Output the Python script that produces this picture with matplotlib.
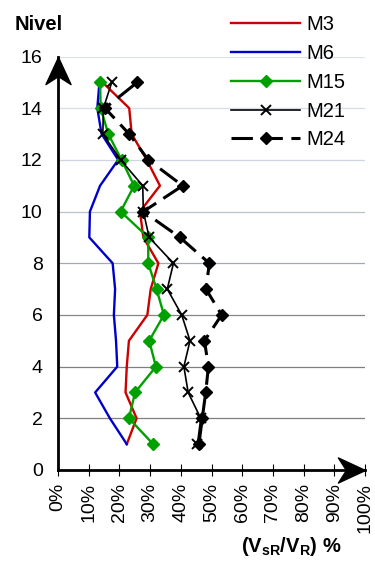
import matplotlib
matplotlib.use('Agg')
import matplotlib.pyplot as plt
import numpy as np
from matplotlib.path import Path
from matplotlib.ticker import FuncFormatter

plt.rcParams['font.family'] = ['Liberation Sans', 'DejaVu Sans']
plt.rcParams['mathtext.fontset'] = 'custom'
plt.rcParams['mathtext.rm'] = 'Liberation Sans'
plt.rcParams['mathtext.bf'] = 'Liberation Sans:bold'

# data: ratio VsR/VR (%) per level
levels = [1, 2, 3, 4, 5, 6, 7, 8, 9, 10, 11, 12, 13, 14, 15]
m3 = [22.4, 25.6, 22.0, 22.4, 23.1, 29.1, 30.2, 32.7, 27.8, 26.7, 33.2, 28.9, 24.0, 23.2, 14.5]
m6 = [22.4, 16.9, 12.1, 19.3, 18.9, 18.2, 18.6, 17.8, 10.2, 10.4, 13.7, 19.6, 14.2, 12.8, 13.5]
m15 = [31.0, 23.1, 25.1, 31.9, 29.7, 34.5, 32.1, 29.4, 29.4, 20.4, 24.8, 20.7, 16.4, 13.9, 13.7]
m21 = [45.4, 46.5, 42.4, 41.0, 43.0, 40.3, 35.6, 37.6, 29.7, 27.8, 27.6, 20.4, 14.6, 14.8, 17.5]
m24 = [45.9, 47.0, 48.1, 49.0, 47.7, 53.3, 48.2, 49.3, 39.7, 27.8, 40.6, 29.4, 23.2, 15.3, 25.8]

xticks = np.arange(0, 101, 10)
yticks = np.arange(0, 17, 2)
grid_colors = ['#7f7f7f', '#7f7f7f', '#858585', '#a4a8b0', '#bcc2cc', '#cdd5e3', '#d5ddec', '#dae2f0']

fig = plt.figure(figsize=(3.75, 5.65), dpi=100)
ax = fig.add_axes([58/375, 1-470/565, 307/375, 413.5/565])

# grid lines
for yv, c in zip(yticks[1:], grid_colors):
    ax.axhline(yv, color=c, lw=0.9, zorder=0)

ax.plot(m3, levels, color='#cc0000', lw=1.7, label='M3')
ax.plot(m6, levels, color='#0000cc', lw=1.7, label='M6')
ax.plot(m15, levels, color='#00a000', lw=1.7, marker='D', ms=6, label='M15')
ax.plot(m21, levels, color='black', lw=1.2, marker='x', ms=6.5, mew=1.4, label='M21')
ax.plot(m24, levels, color='black', lw=2.2, marker='D', ms=6.5, dashes=(7, 2.8), label='M24')

ax.set_xlim(0, 100)
ax.set_ylim(0, 16)
ax.set_xticks(xticks)
ax.set_yticks(yticks)
ax.xaxis.set_major_formatter(FuncFormatter(lambda v, p: '%d%%' % v))
ax.tick_params(axis='x', direction='inout', length=8.5, width=0.8, labelsize=14,
               labelrotation=90, pad=5)
ax.tick_params(axis='y', length=0, labelsize=14, pad=11)

for s in ['top', 'right']:
    ax.spines[s].set_visible(False)
for s in ['left', 'bottom']:
    ax.spines[s].set_linewidth(2)

# arrow heads on the axes
head = Path([(0, 0), (-27, 12.5), (-19, 0), (-27, -12.5), (0, 0)],
            [Path.MOVETO, Path.LINETO, Path.LINETO, Path.LINETO, Path.CLOSEPOLY])
ax.plot([1], [0], marker=head, ms=39, color='black', transform=ax.transAxes, clip_on=False)
head_up = Path([(0, 0), (12.5, -27), (0, -19), (-12.5, -27), (0, 0)],
               [Path.MOVETO, Path.LINETO, Path.LINETO, Path.LINETO, Path.CLOSEPOLY])
ax.plot([0], [1], marker=head_up, ms=39, color='black', transform=ax.transAxes, clip_on=False)

leg = fig.legend(loc='upper left', bbox_to_anchor=(231/375, 1-15/565), frameon=False,
                 fontsize=14.5, handlelength=3.45, handletextpad=0.3, labelspacing=0.49,
                 borderpad=0, borderaxespad=0)

fig.text(15/375, 1-24/565, 'Nivel', fontsize=14.5, fontweight='bold', ha='left', va='center')
fig.text(291/375, 1-547/565, r'(V$_{\mathbf{sR}}$/V$_{\mathbf{R}}$) %', fontsize=14.5,
         fontweight='bold', ha='center', va='center')

fig.savefig('out.png', dpi=100)
